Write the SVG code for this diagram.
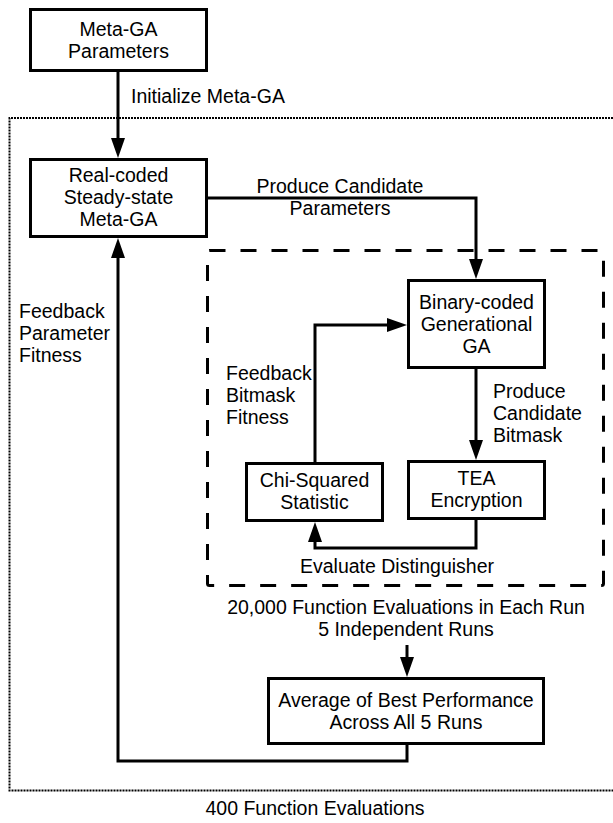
<svg xmlns="http://www.w3.org/2000/svg" width="613" height="823" viewBox="0 0 613 823">
<style>
text{font-family:"Liberation Sans",Arial,sans-serif;font-size:19.5px;fill:#000}
.c{text-anchor:middle}
.box{fill:#fff;stroke:#000;stroke-width:3}
.ln{fill:none;stroke:#000;stroke-width:3}
</style>
<defs>
<marker id="ah" markerUnits="userSpaceOnUse" markerWidth="20" markerHeight="14" refX="10" refY="7" orient="auto">
<path d="M0,0 L20,7 L0,14 z" fill="#000"/>
</marker>
</defs>
<rect width="613" height="823" fill="#fff"/>
<g id="outer-region">
<path d="M613,118 H9.5 V790.5 H613" fill="none" stroke="#000" stroke-width="2" stroke-dasharray="2 1"/>
<text x="315" y="815" class="c">400 Function Evaluations</text>
</g>
<g id="inner-region">
<rect x="207.5" y="250.5" width="396" height="335" rx="2" fill="none" stroke="#000" stroke-width="3" stroke-dasharray="16 15"/>
<text x="406" y="614" class="c">20,000 Function Evaluations in Each Run</text>
<text x="406" y="636" class="c">5 Independent Runs</text>
</g>
<g id="connectors">
<path class="ln" d="M118,71 V148" marker-end="url(#ah)"/>
<path class="ln" d="M208,198 H476 V269" marker-end="url(#ah)"/>
<path class="ln" d="M476,369 V450" marker-end="url(#ah)"/>
<path class="ln" d="M476,520 V548 H315 V532" marker-end="url(#ah)"/>
<path class="ln" d="M315,462 V325 H397" marker-end="url(#ah)"/>
<path class="ln" d="M407,645 V667" marker-end="url(#ah)"/>
<path class="ln" d="M407,745 V761 H118 V248" marker-end="url(#ah)"/>
<text x="131" y="103">Initialize Meta-GA</text>
<text x="340" y="193" class="c">Produce Candidate</text>
<text x="340" y="215" class="c">Parameters</text>
<text x="19" y="318">Feedback</text>
<text x="19" y="340">Parameter</text>
<text x="19" y="362">Fitness</text>
<text x="226" y="380">Feedback</text>
<text x="226" y="402">Bitmask</text>
<text x="226" y="424">Fitness</text>
<text x="493" y="398">Produce</text>
<text x="493" y="420">Candidate</text>
<text x="493" y="442">Bitmask</text>
<text x="397" y="573" class="c">Evaluate Distinguisher</text>
</g>
<g id="meta-params">
<rect class="box" x="30.5" y="9.5" width="176" height="61"/>
<text x="118.5" y="36" class="c">Meta-GA</text>
<text x="118.5" y="58" class="c">Parameters</text>
</g>
<g id="meta-ga">
<rect class="box" x="30.5" y="159.5" width="176" height="77"/>
<text x="118.5" y="182" class="c">Real-coded</text>
<text x="118.5" y="204" class="c">Steady-state</text>
<text x="118.5" y="226" class="c">Meta-GA</text>
</g>
<g id="binary-ga">
<rect class="box" x="408.5" y="280.5" width="136" height="87"/>
<text x="476.5" y="309" class="c">Binary-coded</text>
<text x="476.5" y="331" class="c">Generational</text>
<text x="476.5" y="353" class="c">GA</text>
</g>
<g id="tea">
<rect class="box" x="408.5" y="461.5" width="136" height="57"/>
<text x="476.5" y="485" class="c">TEA</text>
<text x="476.5" y="507" class="c">Encryption</text>
</g>
<g id="chi">
<rect class="box" x="246.5" y="463.5" width="136" height="57"/>
<text x="314.5" y="487" class="c">Chi-Squared</text>
<text x="314.5" y="509" class="c">Statistic</text>
</g>
<g id="average">
<rect class="box" x="268.5" y="678.5" width="275" height="65"/>
<text x="406" y="707" class="c">Average of Best Performance</text>
<text x="406" y="729" class="c">Across All 5 Runs</text>
</g>
</svg>
